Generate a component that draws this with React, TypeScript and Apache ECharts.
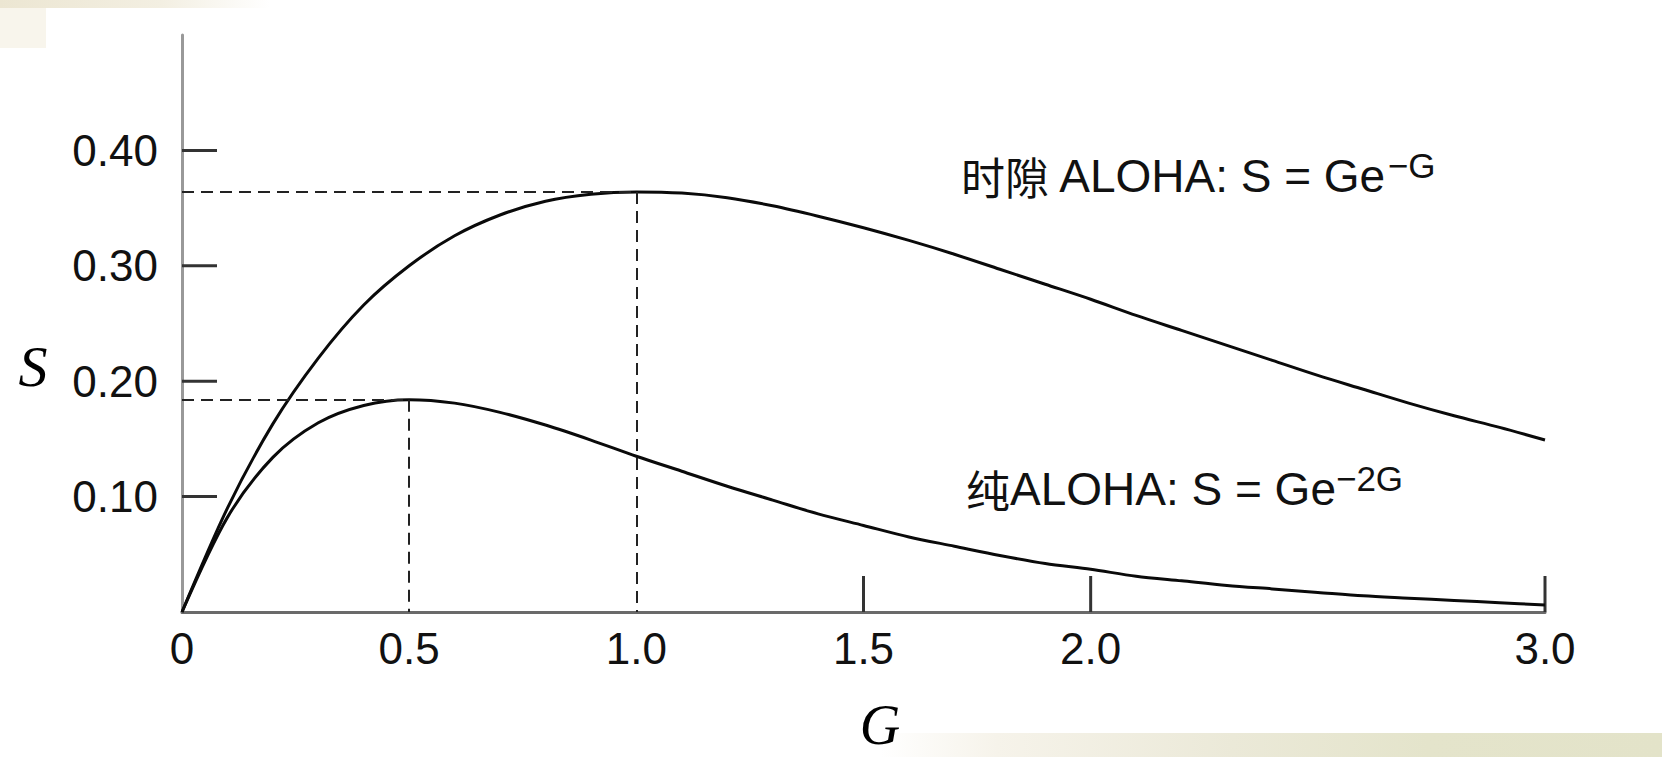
import React, { useEffect, useRef } from "react";
import * as echarts from "echarts";

// Offered load G (x) and throughput S (y)
const gValues = [
  0, 0.1, 0.2, 0.3, 0.4, 0.5, 0.6, 0.7, 0.8, 0.9, 1.0, 1.1, 1.2, 1.3, 1.4, 1.5,
  1.6, 1.7, 1.8, 1.9, 2.0, 2.1, 2.2, 2.3, 2.4, 2.5, 2.6, 2.7, 2.8, 2.9, 3.0,
];
const slottedS = [
  0, 0.09, 0.163, 0.22, 0.266, 0.3, 0.326, 0.344, 0.356, 0.362, 0.364, 0.363,
  0.359, 0.352, 0.343, 0.333, 0.322, 0.31, 0.297, 0.284, 0.271, 0.257, 0.244,
  0.231, 0.218, 0.205, 0.193, 0.181, 0.17, 0.16, 0.149,
];
const pureS = [
  0, 0.082, 0.134, 0.164, 0.179, 0.184, 0.181, 0.173, 0.162, 0.149, 0.135,
  0.122, 0.109, 0.097, 0.085, 0.075, 0.065, 0.057, 0.049, 0.042, 0.037, 0.031,
  0.027, 0.023, 0.02, 0.017, 0.014, 0.012, 0.01, 0.008, 0.006,
];

// Peaks marked by dashed guide lines
const slottedPeak = [1.0, 0.364];
const purePeak = [0.5, 0.184];

// Ticks and tick labels
const xTickMarks = [1.5, 2.0, 3.0];
const yTickMarks = [0.1, 0.2, 0.3, 0.4];
const xTickLabels: Record<string, string> = {
  "0": "0",
  "0.5": "0.5",
  "1": "1.0",
  "1.5": "1.5",
  "2": "2.0",
  "3": "3.0",
};
const yTickLabels: Record<string, string> = {
  "0.1": "0.10",
  "0.2": "0.20",
  "0.3": "0.30",
  "0.4": "0.40",
};

const slottedLabel = { cn: "时隙", text: "ALOHA: S = Ge", sup: "−G" };
const pureLabel = { cn: "纯", text: "ALOHA: S = Ge", sup: "−2G" };

export default function App() {
  const ref = useRef<HTMLDivElement>(null);

  useEffect(() => {
    if (!ref.current) return;
    const chart = echarts.init(ref.current, null, { renderer: "svg" });

    const dash = { color: "#222", width: 2, type: [12, 7] as any };
    const rich = {
      cn: { fontFamily: "Noto Sans CJK SC", fontSize: 44, lineHeight: 56, fill: "#111", color: "#111" },
      lat: { fontFamily: "Liberation Sans", fontSize: 46, lineHeight: 56, fill: "#111", color: "#111" },
      sup: {
        fontFamily: "Liberation Sans",
        fontSize: 35,
        lineHeight: 28,
        verticalAlign: "top",
        fill: "#111",
        color: "#111",
      },
    };

    chart.setOption({
      animation: false,
      backgroundColor: "#ffffff",
      grid: { left: 182, right: 117, top: 35, bottom: 145, containLabel: false },
      xAxis: {
        type: "value",
        min: 0,
        max: 3,
        interval: 0.5,
        axisLine: { show: true, lineStyle: { color: "#6a6a6a", width: 3 } },
        axisTick: { show: false },
        splitLine: { show: false },
        axisLabel: {
          margin: 14,
          fontFamily: "Liberation Sans",
          fontSize: 44,
          color: "#111",
          showMinLabel: true,
          showMaxLabel: true,
          formatter: (v: number) => xTickLabels[String(Math.round(v * 10) / 10)] ?? "",
        },
      },
      yAxis: {
        type: "value",
        min: 0,
        max: 0.5,
        interval: 0.1,
        axisLine: { show: true, lineStyle: { color: "#999999", width: 3 } },
        axisTick: { show: false },
        splitLine: { show: false },
        axisLabel: {
          margin: 24,
          fontFamily: "Liberation Sans",
          fontSize: 44,
          color: "#111",
          padding: [0, 0, 6, 0],
          formatter: (v: number) => yTickLabels[String(Math.round(v * 100) / 100)] ?? "",
        },
      },
      series: [
        {
          type: "line",
          name: "slotted",
          data: gValues.map((g, i) => [g, slottedS[i]]),
          smooth: 0.3,
          showSymbol: false,
          symbol: "none",
          lineStyle: { color: "#0a0a0a", width: 3 },
          markLine: {
            silent: true,
            symbol: "none",
            label: { show: false },
            lineStyle: dash,
            data: [
              [{ coord: [0, slottedPeak[1]] }, { coord: [slottedPeak[0], slottedPeak[1]] }],
              [{ coord: [slottedPeak[0], slottedPeak[1]] }, { coord: [slottedPeak[0], 0] }],
            ],
          },
        },
        {
          type: "line",
          name: "pure",
          data: gValues.map((g, i) => [g, pureS[i]]),
          smooth: 0.3,
          showSymbol: false,
          symbol: "none",
          lineStyle: { color: "#0a0a0a", width: 3 },
          markLine: {
            silent: true,
            symbol: "none",
            label: { show: false },
            lineStyle: dash,
            data: [
              [{ coord: [0, purePeak[1]] }, { coord: [purePeak[0], purePeak[1]] }],
              [{ coord: [purePeak[0], purePeak[1]] }, { coord: [purePeak[0], 0] }],
            ],
          },
        },
        {
          type: "custom",
          name: "yTicks",
          clip: false,
          silent: true,
          data: yTickMarks.map((v) => [0, v]),
          renderItem: (_p: any, api: any) => {
            const pt = api.coord([api.value(0), api.value(1)]);
            return {
              type: "line",
              shape: { x1: pt[0], y1: pt[1], x2: pt[0] + 35, y2: pt[1] },
              style: { stroke: "#333", lineWidth: 3 },
            };
          },
        },
        {
          type: "custom",
          name: "xTicks",
          clip: false,
          silent: true,
          data: xTickMarks.map((v) => [v, 0]),
          renderItem: (_p: any, api: any) => {
            const pt = api.coord([api.value(0), api.value(1)]);
            return {
              type: "line",
              shape: { x1: pt[0], y1: pt[1], x2: pt[0], y2: pt[1] - 36 },
              style: { stroke: "#333", lineWidth: 3 },
            };
          },
        },
      ],
      graphic: [
        {
          type: "rect",
          z: -10,
          shape: { x: 0, y: 0, width: 270, height: 8 },
          style: {
            fill: new echarts.graphic.LinearGradient(0, 0, 1, 0, [
              { offset: 0, color: "#ece6d2" },
              { offset: 0.6, color: "#f3efe2" },
              { offset: 1, color: "#ffffff" },
            ]),
          },
        },
        {
          type: "rect",
          z: -10,
          shape: { x: 0, y: 8, width: 46, height: 40 },
          style: { fill: "#f8f5ec" },
        },
        {
          type: "rect",
          z: -10,
          shape: { x: 880, y: 733, width: 782, height: 24 },
          style: {
            fill: new echarts.graphic.LinearGradient(0, 0, 1, 0, [
              { offset: 0, color: "#ffffff" },
              { offset: 0.15, color: "#f6f3ea" },
              { offset: 0.45, color: "#ebe9d8" },
              { offset: 0.7, color: "#e4e4cb" },
              { offset: 1, color: "#e3e3c9" },
            ]),
          },
        },
        {
          type: "text",
          x: 33,
          y: 366,
          style: {
            text: "S",
            font: 'italic 58px "Liberation Serif"',
            fill: "#000",
            align: "center",
            verticalAlign: "middle",
            textAlign: "center",
            textVerticalAlign: "middle",
          },
        },
        {
          type: "text",
          x: 880,
          y: 725,
          style: {
            text: "G",
            font: 'italic 56px "Liberation Serif"',
            lineHeight: 50,
            fill: "#000",
            align: "center",
            verticalAlign: "middle",
            textAlign: "center",
            textVerticalAlign: "middle",
          },
        },
        {
          type: "text",
          x: 961,
          y: 176,
          style: {
            text: `{cn|${slottedLabel.cn}}{lat| ${slottedLabel.text}}{sup|${slottedLabel.sup}}`,
            font: '46px "Liberation Sans"',
            fill: "#111",
            align: "left",
            verticalAlign: "middle",
            rich,
          },
        },
        {
          type: "text",
          x: 966,
          y: 489,
          style: {
            text: `{cn|${pureLabel.cn}}{lat|${pureLabel.text}}{sup|${pureLabel.sup}}`,
            font: '46px "Liberation Sans"',
            fill: "#111",
            align: "left",
            verticalAlign: "middle",
            rich,
          },
        },
      ],
    });

    return () => chart.dispose();
  }, []);

  return (
    <div
      ref={ref}
      style={{ position: "fixed", left: 0, top: 0, width: 1662, height: 757, background: "#fff" }}
    />
  );
}
